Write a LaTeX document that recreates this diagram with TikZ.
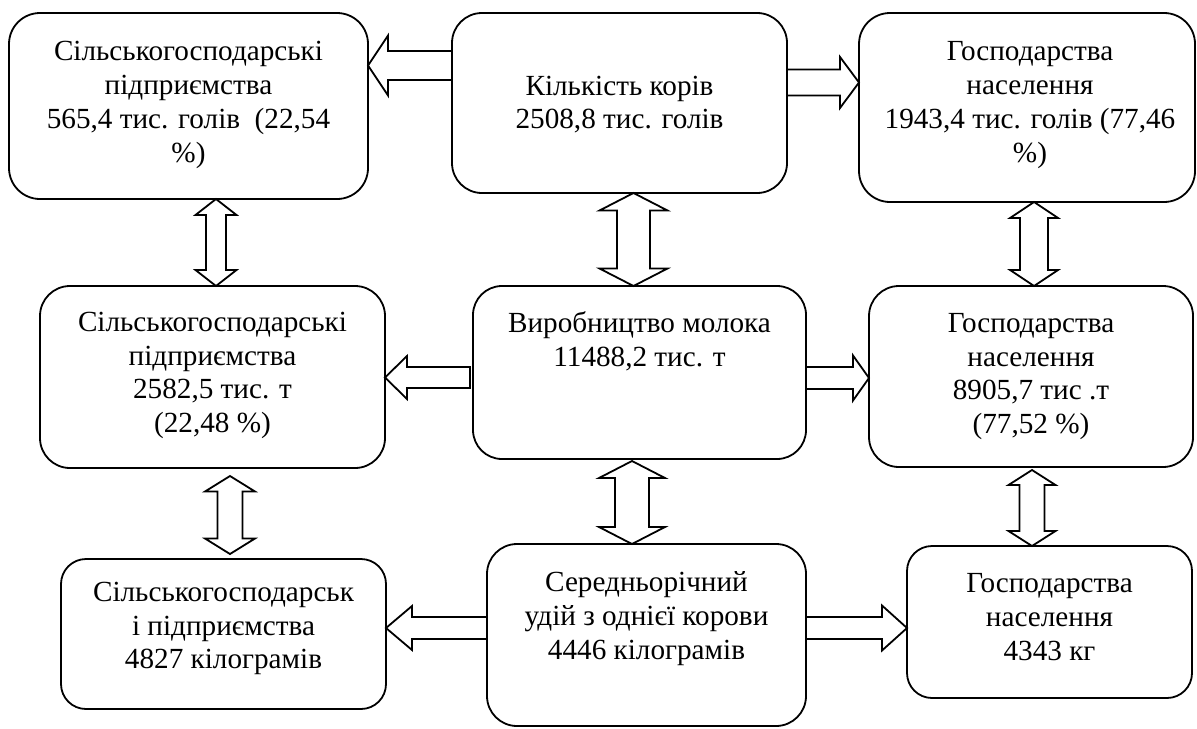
\documentclass[tikz,border=0pt]{standalone}
\usepackage{fontspec}
\setmainfont{Liberation Serif}
\usetikzlibrary{calc}
\tikzset{
  box/.style={draw, line width=0.9pt, inner sep=0pt, outer sep=0pt},
  txt/.style={align=center, inner sep=0pt, font=\fontsize{14.6}{16.9}\selectfont},
  blk/.style={draw, line width=0.9pt, fill=white, line join=miter},
}
% horizontal block arrow: tail, tip, shaft half, head half, signed head length
\newcommand{\harr}[5]{%
  \draw[blk] let \p1=#1, \p2=#2 in
    (\x1,{\y1+#3}) -- ({\x2-(#5)},{\y1+#3}) -- ({\x2-(#5)},{\y1+#4}) -- (\x2,\y1)
    -- ({\x2-(#5)},{\y1-#4}) -- ({\x2-(#5)},{\y1-#3}) -- (\x1,{\y1-#3}) -- cycle;}
% vertical double block arrow: top tip, bottom tip, shaft half, head half, head length
\newcommand{\varr}[5]{%
  \draw[blk] let \p1=#1, \p2=#2 in
    (\x1,\y1) -- ({\x1+#4},{\y1-#5}) -- ({\x1+#3},{\y1-#5}) -- ({\x1+#3},{\y2+#5})
    -- ({\x1+#4},{\y2+#5}) -- (\x1,\y2) -- ({\x1-#4},{\y2+#5}) -- ({\x1-#3},{\y2+#5})
    -- ({\x1-#3},{\y1-#5}) -- ({\x1-#4},{\y1-#5}) -- cycle;}
\begin{document}
\begin{tikzpicture}[x=0.5pt, y=-0.5pt]
\useasboundingbox (0,0) rectangle (1197,728);

% boxes
\node[box, minimum width=179.5pt, minimum height=93pt, rounded corners=15.5pt] (A) at (188.5,106) {};
\node[box, minimum width=167.5pt, minimum height=90pt, rounded corners=15pt] (B) at (619.5,103) {};
\node[box, minimum width=168pt, minimum height=94.5pt, rounded corners=15.5pt] (C) at (1027,107.5) {};
\node[box, minimum width=172.5pt, minimum height=91pt, rounded corners=15pt] (D) at (212.5,377) {};
\node[box, minimum width=166.5pt, minimum height=86.5pt, rounded corners=14.5pt] (E) at (639.5,372.5) {};
\node[box, minimum width=162pt, minimum height=90.5pt, rounded corners=15pt] (F) at (1031,376.5) {};
\node[box, minimum width=162.5pt, minimum height=75pt, rounded corners=12.5pt] (G) at (223.5,634) {};
\node[box, minimum width=159.5pt, minimum height=91pt, rounded corners=15pt] (H) at (646.5,635) {};
\node[box, minimum width=142.5pt, minimum height=76pt, rounded corners=12.5pt] (I) at (1049.5,622) {};

% texts
\node[txt] (At) at (188.5,105) {Сільськогосподарські\\підприємства\\565,4 тис. голів~~(22,54\\\%)};
\node[txt] (Bt) at (619.5,104.5) {Кількість корів\\2508,8 тис. голів};
\node[txt] (Ct) at (1030,105) {Господарства\\населення\\1943,4 тис. голів (77,46\\\%)};
\node[txt] (Dt) at (212.5,375.5) {Сільськогосподарські\\підприємства\\2582,5 тис. т\\(22,48 \%)};
\node[txt] (Et) at (639.5,341.5) {Виробництво молока\\11488,2 тис. т};
\node[txt] (Ft) at (1031,376.5) {Господарства\\населення\\8905,7 тис .т\\(77,52 \%)};
\node[txt] (Gt) at (223.5,628.5) {Сільськогосподарськ\\і підприємства\\4827 кілограмів};
\node[txt] (Ht) at (646.5,618.5) {Середньорічний\\удій з однієї корови\\4446 кілограмів};
\node[txt] (It) at (1049.5,617) {Господарства\\населення\\4343 кг};

% horizontal arrows
\harr{(B.west |- 0,65.5)}{(A.east |- 0,65.5)}{7.25pt}{15pt}{-10pt}
\harr{(B.east |- 0,82.5)}{(C.west |- 0,82.5)}{6.5pt}{12.75pt}{9.5pt}
\harr{([xshift=-1.5pt]E.west |- 0,377.5)}{(D.east |- 0,377.5)}{5.25pt}{10.75pt}{-11pt}
\harr{(E.east |- 0,378)}{(F.west |- 0,378)}{5.5pt}{11.25pt}{8pt}
\harr{(H.west |- 0,628)}{(G.east |- 0,628)}{5.5pt}{11pt}{-13pt}
\harr{(H.east |- 0,628)}{(I.west |- 0,628)}{5.5pt}{11.25pt}{12.5pt}

% vertical double arrows
\varr{(A.south -| 216,0)}{(D.north -| 216,0)}{5pt}{10.25pt}{8pt}
\varr{(B.south -| 633.5,0)}{(E.north -| 633.5,0)}{8.25pt}{17pt}{8.75pt}
\varr{(C.south -| 1034,0)}{(F.north -| 1034,0)}{7pt}{12pt}{8pt}
\varr{([yshift=-4pt]D.south -| 230,0)}{([yshift=2.5pt]G.north -| 230,0)}{6.25pt}{12.5pt}{7.75pt}
\varr{([yshift=-1pt]E.south -| 632,0)}{(H.north -| 632,0)}{8.5pt}{16.5pt}{8.5pt}
\varr{([yshift=-1.5pt]F.south -| 1032,0)}{(I.north -| 1032,0)}{6.25pt}{11.75pt}{7.5pt}
\end{tikzpicture}
\end{document}
